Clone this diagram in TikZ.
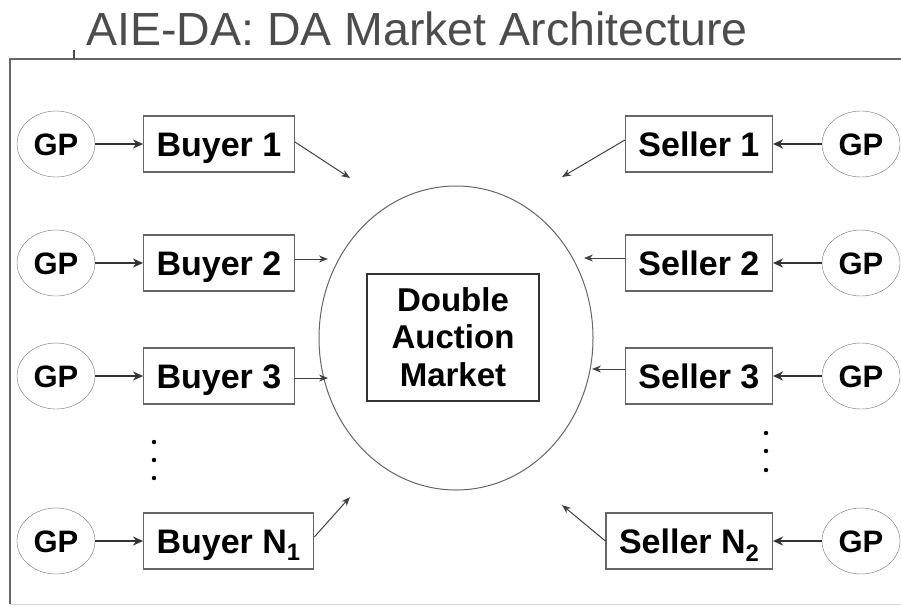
\documentclass[tikz,border=0pt]{standalone}
\usepackage{fontspec}
\setmainfont{Liberation Sans}
\usetikzlibrary{arrows.meta,shapes.geometric}

\begin{document}
\begin{tikzpicture}[x=1pt,y=-1pt,>=Stealth,
  gp/.style={draw=black!55,ellipse,minimum width=78pt,minimum height=66pt,inner sep=0pt,text height=22pt,text depth=0pt,font=\fontsize{31}{32}\selectfont\bfseries},
  agent/.style={draw=black!60,line width=1.2pt,minimum height=56pt,inner xsep=13pt,inner ysep=0pt,text height=24.3pt,text depth=0pt,font=\fontsize{34}{36}\selectfont\bfseries},
  feed/.style={line width=2.4pt,draw=black!80,-{Stealth[length=10pt,width=9pt]}},
  bid/.style={line width=1pt,draw=black!75,-{Stealth[length=9pt,width=7pt]}}]
\useasboundingbox (0,0) rectangle (901,606);
% frame and title
\draw[black!60,line width=1.5pt] (901,59) -- (10,59) -- (10,604);
\draw[black!15,line width=1pt] (10,604) -- (901,604);
\draw[black!70,line width=1.2pt] (74,50) -- (74,59);
\node[anchor=base west,text=black!70,font=\fontsize{46.5}{48}\selectfont,inner sep=0pt] (title) at (86,45) {AIE-DA: DA Market Architecture};
% market
\node[draw=black!60,ellipse,line width=1pt,minimum width=274pt,minimum height=304pt] (market) at (456,338) {};
\node[draw=black!80,line width=2pt,minimum width=172pt,minimum height=127pt,align=center,font=\fontsize{33}{37.5}\selectfont\bfseries] (dam) at (453,337) {Double\\Auction\\Market};
% buyers
\node[gp] (gpb1) at (56,144) {GP};
\node[gp] (gpb2) at (56,263) {GP};
\node[gp] (gpb3) at (56,376) {GP};
\node[gp] (gpbn) at (56,541) {GP};
\node[agent,anchor=west] (buyer1) at (143,144) {Buyer 1};
\node[agent,anchor=west] (buyer2) at (143,263) {Buyer 2};
\node[agent,anchor=west] (buyer3) at (143,376) {Buyer 3};
\node[agent,anchor=west] (buyern) at (143,541) {Buyer N\textsubscript{1}};
% sellers
\node[gp] (gps1) at (861,144) {GP};
\node[gp] (gps2) at (861,263) {GP};
\node[gp] (gps3) at (861,376) {GP};
\node[gp] (gpsn) at (861,541) {GP};
\node[agent,anchor=east] (seller1) at (773,144) {Seller 1};
\node[agent,anchor=east] (seller2) at (773,263) {Seller 2};
\node[agent,anchor=east] (seller3) at (773,376) {Seller 3};
\node[agent,anchor=east] (sellern) at (773,541) {Seller N\textsubscript{2}};
% arrow ends near the market
\coordinate (tb1) at (350,178);
\coordinate (tb2) at (328,259);
\coordinate (tb3) at (328,378);
\coordinate (tbn) at (350,497);
\coordinate (ts1) at (562,177);
\coordinate (ts2) at (584,258);
\coordinate (ts3) at (592,369);
\coordinate (tsn) at (562,505);
\draw[feed] (gpb1) -- (buyer1);
\draw[feed] (gpb2) -- (buyer2);
\draw[feed] (gpb3) -- (buyer3);
\draw[feed] (gpbn) -- (buyern);
\draw[feed] (gps1) -- (seller1);
\draw[feed] (gps2) -- (seller2);
\draw[feed] (gps3) -- (seller3);
\draw[feed] (gpsn) -- (sellern);
\draw[bid] ([yshift=2pt]buyer1.east) -- (tb1);
\draw[bid] (buyer2.east |- tb2) -- (tb2);
\draw[bid] (buyer3.east |- tb3) -- (tb3);
\draw[bid] ([yshift=4pt]buyern.east) -- (tbn);
\draw[bid] ([yshift=4pt]seller1.west) -- (ts1);
\draw[bid] (seller2.west |- ts2) -- (ts2);
\draw[bid] (seller3.west |- ts3) -- (ts3);
\draw[bid] (sellern.west) -- (tsn);
% dots
\foreach \y in {442,460,478} \fill (154,\y) circle (2.2pt);
\foreach \y in {433,451,470} \fill (766,\y) circle (2.2pt);
\end{tikzpicture}
\end{document}
